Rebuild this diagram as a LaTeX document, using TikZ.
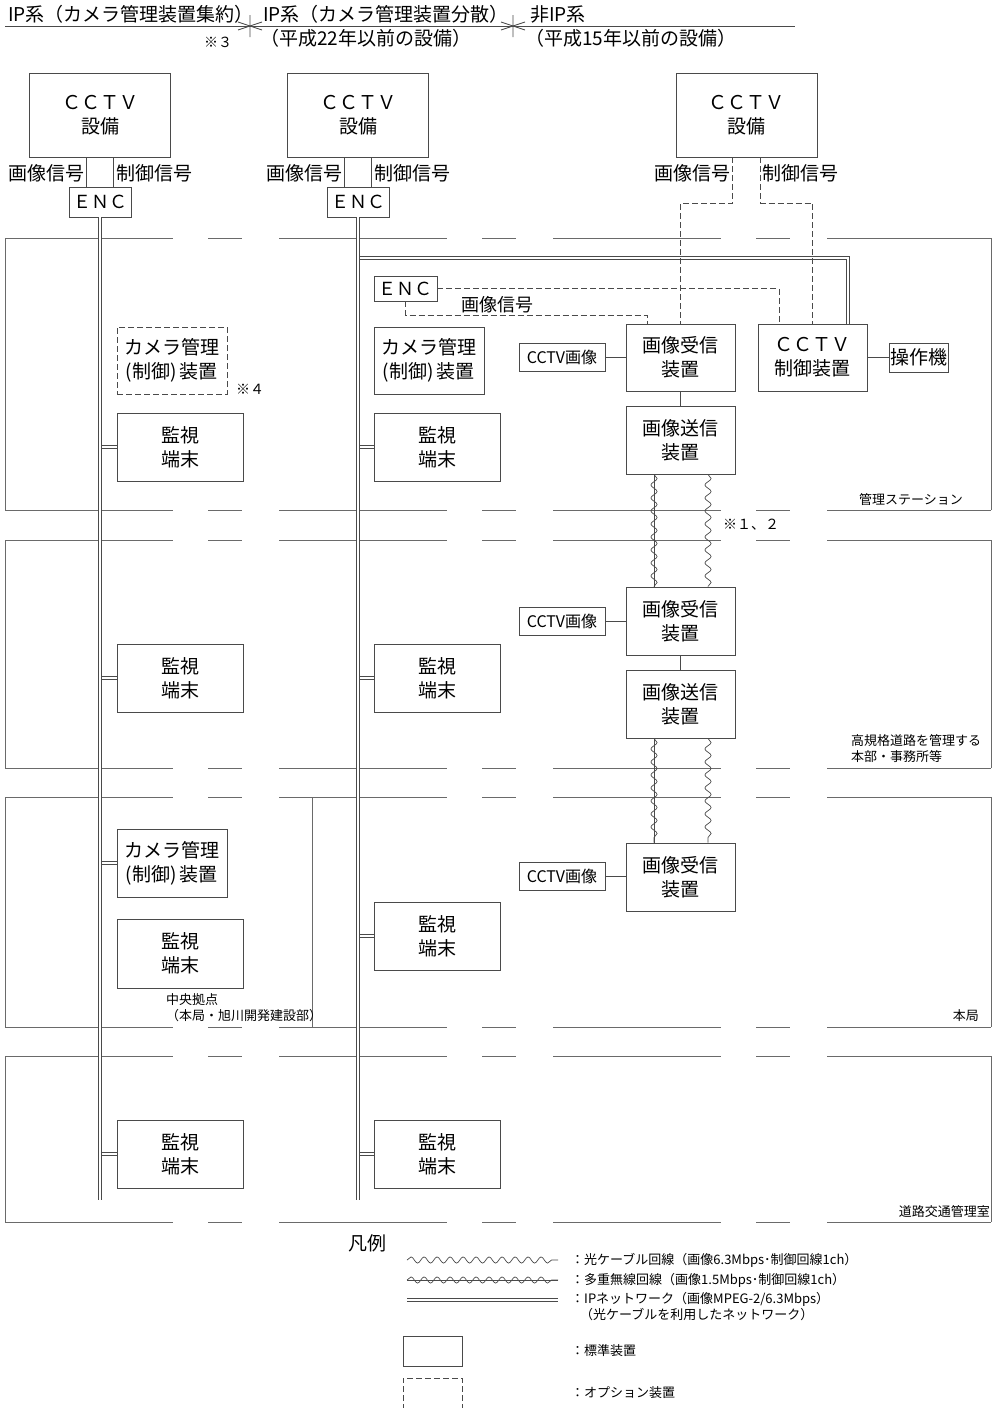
\documentclass[tikz,border=0pt]{standalone}
\usepackage{fontspec}
\setmainfont{Noto Sans CJK JP}
\usetikzlibrary{decorations.pathmorphing}
\definecolor{linegray}{HTML}{4A4A4A}
\definecolor{zonegray}{HTML}{6A6A6A}
\tikzset{
  box/.style={draw=linegray, line width=0.8pt, rectangle, align=center, inner sep=0pt, font=\fontsize{19}{24}\selectfont},
  optbox/.style={box, dash pattern=on 6pt off 3pt},
  cctvbox/.style={box, minimum width=141, minimum height=84},
  encbox/.style={box, minimum width=62, minimum height=30, font=\fontsize{18}{22}\selectfont},
  cambox/.style={minimum width=110, minimum height=67},
  monbox/.style={box, minimum width=126, minimum height=68},
  rxbox/.style={box, minimum width=109, minimum height=67},
  imgbox/.style={box, minimum width=86, minimum height=28, font=\fontsize{16}{20}\selectfont},
  ipline/.style={draw=linegray, line width=0.7pt, double=white, double distance=2.4pt},
  sigline/.style={draw=linegray, line width=0.8pt},
  optline/.style={sigline, dash pattern=on 6pt off 3pt},
  zoneedge/.style={draw=zonegray, line width=0.9pt, dash pattern=on 168pt off 35pt on 34pt off 37pt},
  zonewall/.style={draw=zonegray, line width=0.9pt},
  fibre/.style={draw=linegray, line width=0.7pt, decorate, decoration={snake, amplitude=3.1pt, segment length=13pt}},
  headtext/.style={inner sep=0pt, font=\fontsize{19}{23}\selectfont},
  sigtext/.style={inner sep=0pt, font=\fontsize{19}{23}\selectfont},
  smalltext/.style={inner sep=0pt, align=left, font=\fontsize{13}{16}\selectfont},
}

\begin{document}
\begin{tikzpicture}[x=1pt, y=-1pt]
  \useasboundingbox (0,0) rectangle (992,1408);

  % header
  \draw[sigline] (5,26) -- (795,26);
  \draw[sigline] (250,15) -- (250,37) (238,22) -- (262,30) (238,30) -- (262,22);
  \draw[sigline] (513,15) -- (513,37) (501,22) -- (525,30) (501,30) -- (525,22);
  \node[headtext, anchor=west] (hdA) at (8,14) {IP系（カメラ管理装置集約）};
  \node[headtext, anchor=west] (hdB) at (263,14) {IP系（カメラ管理装置分散）};
  \node[headtext, anchor=west] (hdByear) at (260,38) {（平成22年以前の設備）};
  \node[headtext, anchor=west] (hdC) at (530,14) {非IP系};
  \node[headtext, anchor=west] (hdCyear) at (525,38) {（平成15年以前の設備）};
  \node[smalltext, font=\fontsize{14}{16}\selectfont] (note3) at (218,42) {※３};

  % zones
  \draw[zoneedge] (5,238) -- (991,238) (5,510) -- (991,510);
  \draw[zonewall] (5,238) -- (5,510) (991,238) -- (991,510);
  \draw[zoneedge] (5,540) -- (991,540) (5,768) -- (991,768);
  \draw[zonewall] (5,540) -- (5,768) (991,540) -- (991,768);
  \draw[zoneedge] (5,797) -- (991,797) (5,1027) -- (991,1027);
  \draw[zonewall] (5,797) -- (5,1027) (991,797) -- (991,1027) (312,797) -- (312,1027);
  \draw[zoneedge] (5,1056) -- (991,1056) (5,1222) -- (991,1222);
  \draw[zonewall] (5,1056) -- (5,1222) (991,1056) -- (991,1222);
  \node[smalltext, anchor=east] (zoneStation) at (963,500) {管理ステーション};
  \node[smalltext, anchor=west] (zoneOffice) at (851,749) {高規格道路を管理する\\本部・事務所等};
  \node[smalltext, anchor=west] (zoneCentre) at (166,1008) {中央拠点\\（本局・旭川開発建設部）};
  \node[smalltext, anchor=east] (zoneHq) at (979,1016) {本局};
  \node[smalltext, anchor=east] (zoneRoad) at (990,1212) {道路交通管理室};

  % cameras
  \node[cctvbox] (cctvA) at (100,115) {ＣＣＴＶ\\設備};
  \node[cctvbox] (cctvB) at (358,115) {ＣＣＴＶ\\設備};
  \node[cctvbox] (cctvC) at (746.5,115) {ＣＣＴＶ\\設備};
  \node[encbox] (encA) at (100,202) {ＥＮＣ};
  \node[encbox] (encB) at (358,202) {ＥＮＣ};
  \node[sigtext, anchor=east] (vidA) at (85,173) {画像信号};
  \node[sigtext, anchor=west] (ctlA) at (116,173) {制御信号};
  \node[sigtext, anchor=east] (vidB) at (343,173) {画像信号};
  \node[sigtext, anchor=west] (ctlB) at (374,173) {制御信号};
  \node[sigtext, anchor=east] (vidC) at (731,173) {画像信号};
  \node[sigtext, anchor=west] (ctlC) at (762,173) {制御信号};

  % management station
  \node[box, optbox, cambox] (camA) at (172,360.5) {カメラ管理\\(制御)\,装置};
  \node[smalltext, font=\fontsize{14}{16}\selectfont] (note4) at (250,389) {※４};
  \node[monbox] (monA1) at (180,447) {監視\\端末};
  \node[encbox, minimum width=63, minimum height=25] (encC) at (405.5,288.5) {ＥＮＣ};
  \node[sigtext, font=\fontsize{18}{22}\selectfont] (vidEnc) at (497,305) {画像信号};
  \node[box, cambox] (camB) at (429,360.5) {カメラ管理\\(制御)\,装置};
  \node[monbox] (monB1) at (437,447) {監視\\端末};
  \node[imgbox] (imgA) at (562,357.5) {CCTV画像};
  \node[rxbox] (rxA) at (680.5,357.5) {画像受信\\装置};
  \node[rxbox] (ctrl) at (812.5,357.5) {ＣＣＴＶ\\制御装置};
  \node[box, minimum width=59, minimum height=29] (op) at (918.5,357.5) {操作機};
  \node[rxbox, minimum height=68] (txA) at (680.5,440) {画像送信\\装置};
  \node[smalltext, font=\fontsize{14}{16}\selectfont] (note12) at (751,525) {※１、２};

  % regional office
  \node[monbox] (monA2) at (180,678) {監視\\端末};
  \node[monbox] (monB2) at (437,678) {監視\\端末};
  \node[imgbox] (imgB) at (562,621) {CCTV画像};
  \node[rxbox, minimum height=68] (rxB) at (680.5,621) {画像受信\\装置};
  \node[rxbox, minimum height=68] (txB) at (680.5,704) {画像送信\\装置};

  % head office
  \node[box, cambox, minimum height=68] (camC) at (172,863) {カメラ管理\\(制御)\,装置};
  \node[monbox, minimum height=69] (monA3) at (180,953.5) {監視\\端末};
  \node[monbox] (monB3) at (437,936) {監視\\端末};
  \node[imgbox] (imgC) at (562,876) {CCTV画像};
  \node[rxbox, minimum height=68] (rxC) at (680.5,877) {画像受信\\装置};

  % road traffic room
  \node[monbox] (monA4) at (180,1154) {監視\\端末};
  \node[monbox] (monB4) at (437,1154) {監視\\端末};

  % signal lines
  \draw[sigline] ([xshift=-13.5pt]cctvA.south) -- ([xshift=-13.5pt]encA.north);
  \draw[sigline] ([xshift=13.5pt]cctvA.south) -- ([xshift=13.5pt]encA.north);
  \draw[sigline] ([xshift=-13.5pt]cctvB.south) -- ([xshift=-13.5pt]encB.north);
  \draw[sigline] ([xshift=13.5pt]cctvB.south) -- ([xshift=13.5pt]encB.north);

  % IP network
  \coordinate (ipAend) at (100,1200);
  \coordinate (ipBend) at (358,1200);
  \coordinate (ipBtap) at (358,258);
  \draw[ipline] (ipBtap) -| ([xshift=35.5pt]ctrl.north);
  \draw[ipline] (camA.west -| encA) -- (camA.west);
  \draw[ipline] (monA1.west -| encA) -- (monA1.west);
  \draw[ipline] (monA2.west -| encA) -- (monA2.west);
  \draw[ipline] (camC.west -| encA) -- (camC.west);
  \draw[ipline] (monA3.west -| encA) -- (monA3.west);
  \draw[ipline] (monA4.west -| encA) -- (monA4.west);
  \draw[ipline] (encC.west -| encB) -- (encC.west);
  \draw[ipline] (camB.west -| encB) -- (camB.west);
  \draw[ipline] (monB1.west -| encB) -- (monB1.west);
  \draw[ipline] (monB2.west -| encB) -- (monB2.west);
  \draw[ipline] (monB3.west -| encB) -- (monB3.west);
  \draw[ipline] (monB4.west -| encB) -- (monB4.west);
  \draw[ipline] (encA.south) -- (ipAend);
  \draw[ipline] (encB.south) -- (ipBend);

  % non-IP signals
  \draw[optline] ([xshift=-14pt]cctvC.south) -- ++(0,46) -| (rxA.north);
  \draw[optline] ([xshift=14pt]cctvC.south) -- ++(0,46) -| (ctrl.north);
  \draw[optline] (encC.east) -| ([xshift=-33.5pt]ctrl.north);
  \draw[optline] (encC.south) -- ++(0,14) -| ([xshift=-33.5pt]rxA.north);
  \draw[sigline] (imgA.east) -- (imgA.east -| rxA.west);
  \draw[sigline] (ctrl.east) -- (ctrl.east -| op.west);
  \draw[sigline] (rxA) -- (txA);
  \draw[sigline] (imgB.east) -- (imgB.east -| rxB.west);
  \draw[sigline] (rxB) -- (txB);
  \draw[sigline] (imgC.east) -- (imgC.east -| rxC.west);

  % links between sites
  \draw[fibre] ([xshift=-26.5pt]txA.south) -- ([xshift=-26.5pt]rxB.north);
  \draw[sigline] ([xshift=-26.5pt]txA.south) -- ([xshift=-26.5pt]rxB.north);
  \draw[fibre] ([xshift=27.5pt]txA.south) -- ([xshift=27.5pt]rxB.north);
  \draw[fibre] ([xshift=-26.5pt]txB.south) -- ([xshift=-26.5pt]rxC.north);
  \draw[sigline] ([xshift=-26.5pt]txB.south) -- ([xshift=-26.5pt]rxC.north);
  \draw[fibre] ([xshift=27.5pt]txB.south) -- ([xshift=27.5pt]rxC.north);

  % legend
  \node[sigtext, anchor=west] (legTitle) at (348,1243) {凡例};
  \draw[fibre] (407,1260) -- (558,1260);
  \draw[fibre] (407,1280) -- (558,1280);
  \draw[sigline] (407,1280) -- (558,1280);
  \draw[ipline] (407,1300) -- (558,1300);
  \node[box, minimum width=59, minimum height=30] (legStd) at (432.5,1351) {};
  \draw[optline] (403,1410) -- (403,1378) -- (462,1378) -- (462,1410);
  \node[smalltext, anchor=west] (legFibre) at (571,1260) {：光ケーブル回線（画像6.3Mbps･制御回線1ch）};
  \node[smalltext, anchor=west] (legRadio) at (571,1280) {：多重無線回線（画像1.5Mbps･制御回線1ch）};
  \node[smalltext, anchor=west] (legIp) at (571,1299) {：IPネットワーク（画像MPEG-2/6.3Mbps）};
  \node[smalltext, anchor=west] (legIp2) at (580,1315) {（光ケーブルを利用したネットワーク）};
  \node[smalltext, anchor=west] (legStdText) at (571,1351) {：標準装置};
  \node[smalltext, anchor=west] (legOptText) at (571,1393) {：オプション装置};
\end{tikzpicture}
\end{document}
